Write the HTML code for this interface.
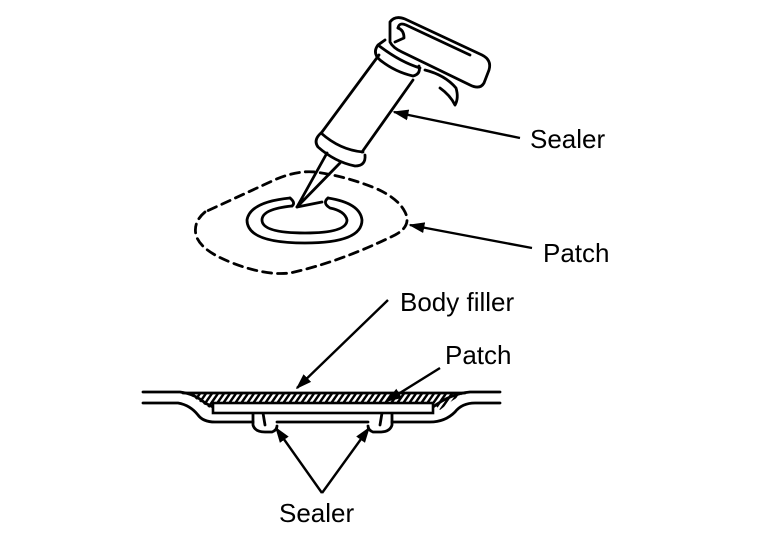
<!DOCTYPE html>
<html><head><style>
html,body{margin:0;padding:0;background:#fff;}
svg{display:block;}
text{font-family:"Liberation Sans",sans-serif;font-size:26px;fill:#000;}
</style></head><body>
<svg width="768" height="544" viewBox="0 0 768 544" xmlns="http://www.w3.org/2000/svg">
<defs>
<marker id="ah" viewBox="0 0 10 10" refX="9" refY="5" markerWidth="16" markerHeight="12" markerUnits="userSpaceOnUse" orient="auto" preserveAspectRatio="none"><path d="M0,0.5 L10,5 L0,9.5 z" fill="#000"/></marker>
<pattern id="hatch" width="6" height="12" patternUnits="userSpaceOnUse" patternTransform="skewX(-35)"><rect x="0" y="0" width="3" height="12" fill="#000"/></pattern>
</defs>
<path d="M183,393 L465,393 Q452,400 440,410 L433,403 L213,403 L213,410 Q200,402 190,395 Z" fill="url(#hatch)"/>
<g fill="none" stroke="#000" stroke-width="2.8" stroke-linejoin="round" stroke-linecap="round">
<!-- dashed patch -->
<path d="M205,212 Q193,222 196,235 Q200,250 230,262 Q265,276 290,273 Q340,262 395,235 Q412,226 405,212 Q398,198 375,188 Q345,176 315,172 Q295,170 270,182 Z" stroke-dasharray="9,6"/>
<!-- ring -->
<path d="M290,198 Q250,202 247,220 Q247,243 305,243 Q362,243 362,220 Q360,203 328,198"/>
<path d="M292,206 Q262,209 262,220 Q262,233 305,233 Q347,233 347,220 Q345,211 330,208 Q322,203 328,198"/>
<path d="M290,198 Q296,203 292,206"/>
<!-- nozzle -->
<path d="M327,153 L297,207 L340,163"/>
<path d="M297,207 L322,202"/>
<!-- nozzle collar -->
<path d="M321,133 Q313,140 318,147 Q335,162 355,166 Q366,166 365,155"/>
<path d="M321,133 Q340,150 363,152"/>
<!-- tube -->
<path d="M322,132 L379,55 M362,152 L413,80"/>
<!-- gun collar -->
<path d="M378,45 Q372,53 380,60 Q395,72 413,76 Q421,74 419,66 M378,45 Q400,62 420,68 M378,45 L385,40"/>
<!-- handle -->
<path d="M390,22 Q395,15 405,19 L482,55 Q492,60 489,70 L484,83 Q480,90 470,85 L402,52 Q393,48 390,42 Z"/>
<path d="M398,28 Q399,22 406,25 L470,55"/>
<path d="M395,42 L404,38 Q404,30 398,28"/>
<path d="M425,70 Q445,75 456,88 Q459,98 455,105 Q450,95 440,88"/>
<!-- lower section -->
<path d="M143,392 L180,392 Q195,394 205,403 L213,407 M433,407 Q450,394 470,392 L500,392"/>
<path d="M143,403 L178,403 Q190,405 198,415 Q203,422 215,422 L253,422 M277,422 L368,422 M392,422 L430,422 Q445,422 455,412 Q462,403 475,403 L500,403"/>
<path d="M253,413 L253,425 Q255,432 265,432 L272,432 Q277,430 277,426 M263,413 L265,425"/>
<path d="M392,413 L392,425 Q390,432 380,432 L373,432 Q368,430 368,426 M382,413 L380,425"/>
<path d="M183,393 L465,393"/>
</g>
<rect x="213" y="403" width="220" height="10" fill="#fff" stroke="#000" stroke-width="2.6"/>
<!-- leaders -->
<g stroke="#000" stroke-width="2.4" fill="none" marker-end="url(#ah)">
<line x1="520" y1="138" x2="394" y2="112"/>
<line x1="532" y1="248" x2="410" y2="225"/>
<line x1="388" y1="300" x2="297" y2="388"/>
<line x1="440" y1="368" x2="387" y2="401"/>
<line x1="322" y1="493" x2="276" y2="428"/>
<line x1="322" y1="493" x2="369" y2="428"/>
</g>
<text x="530" y="148">Sealer</text>
<text x="543" y="262">Patch</text>
<text x="400" y="311">Body filler</text>
<text x="445" y="364">Patch</text>
<text x="279" y="522">Sealer</text>
</svg>
</body></html>
